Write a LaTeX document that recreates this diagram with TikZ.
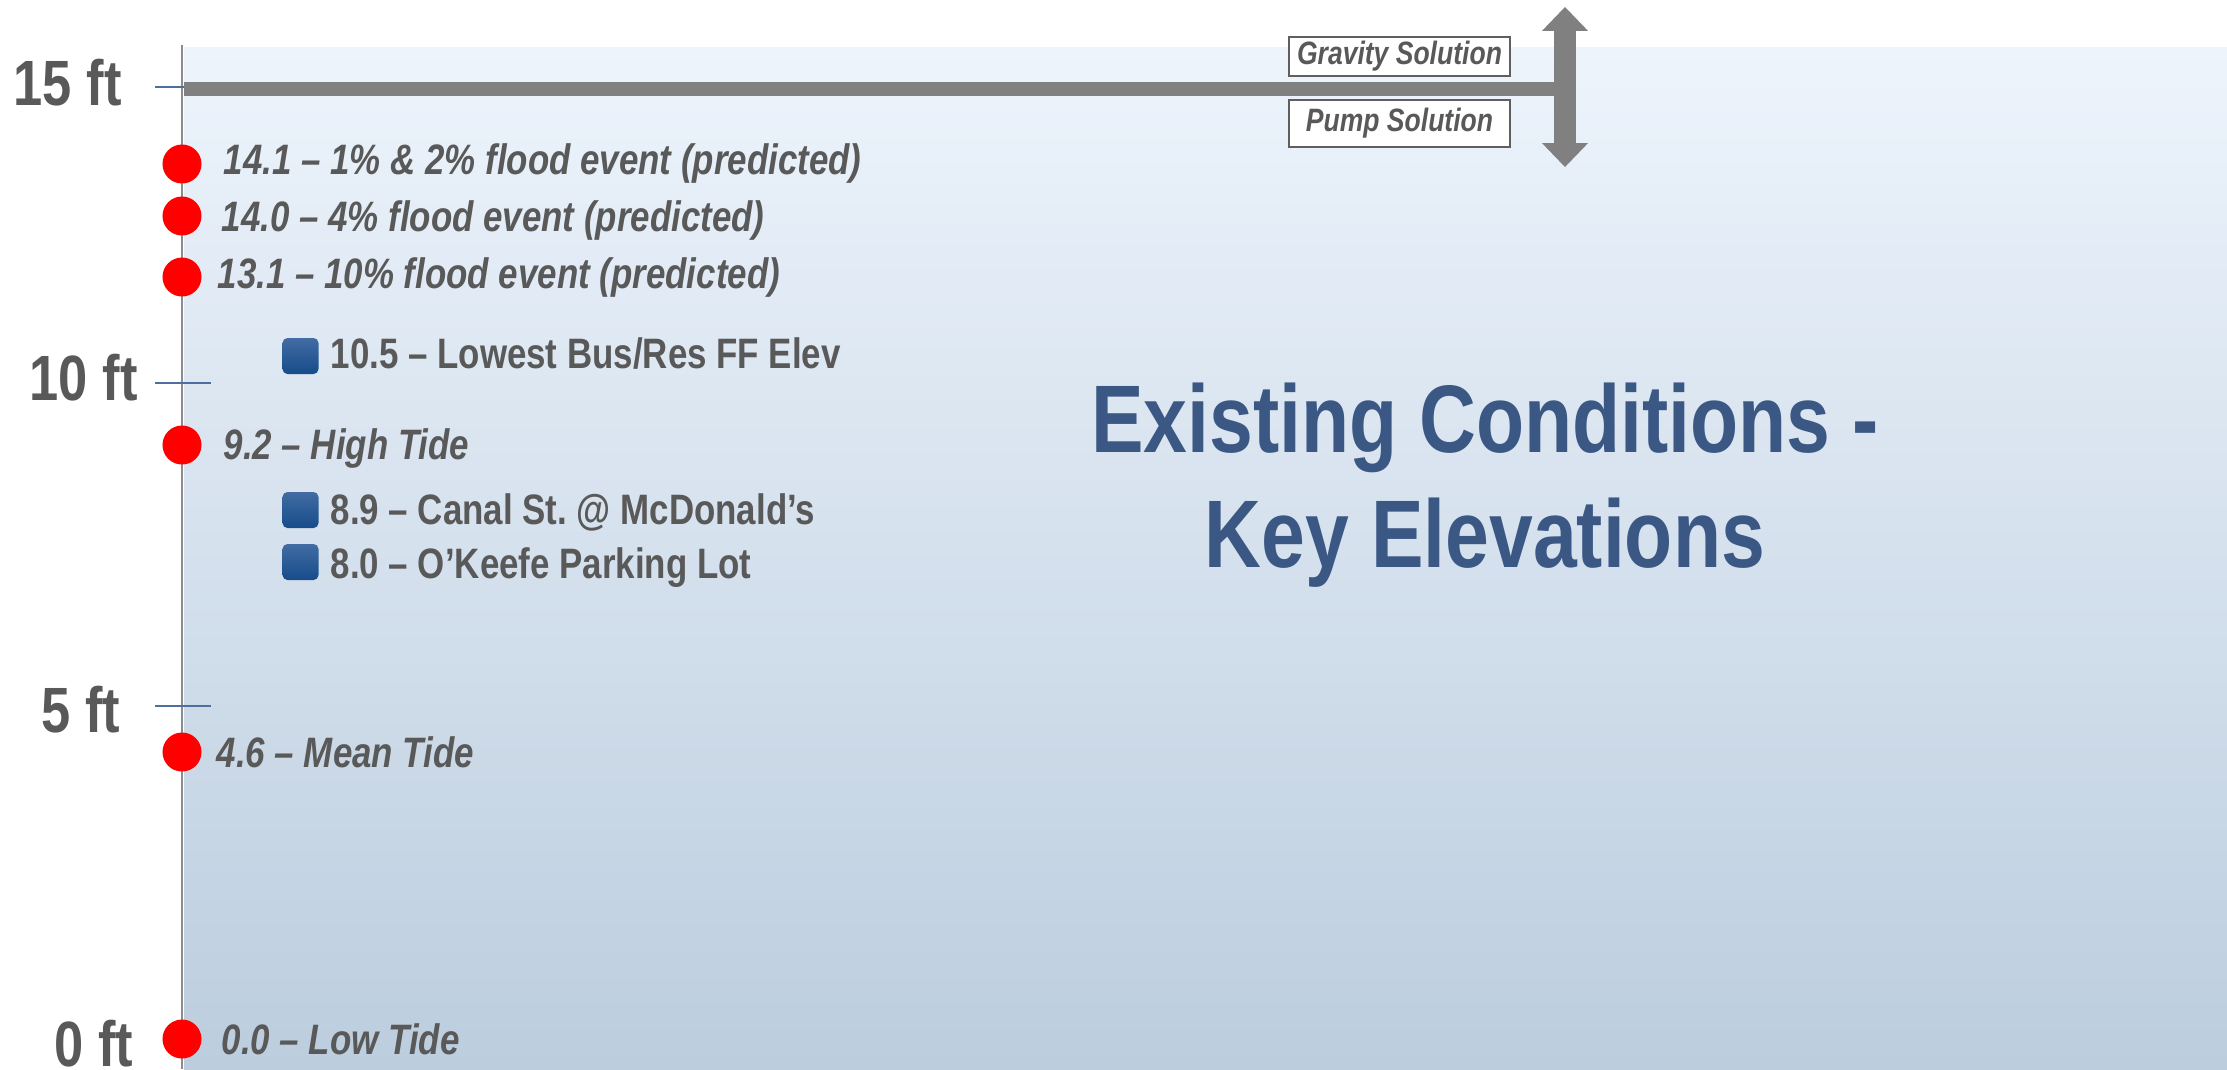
\documentclass[tikz,border=0pt]{standalone}
\usepackage{fontspec}
\setmainfont{Liberation Sans}[FakeStretch=0.82]
\usetikzlibrary{arrows.meta}
\usepackage{xcolor}
\definecolor{txtgray}{RGB}{89,89,89}
\definecolor{ttlblue}{RGB}{59,88,133}
\definecolor{bargray}{RGB}{128,128,128}
\definecolor{axgray}{RGB}{140,140,140}
\definecolor{tickblue}{RGB}{79,110,160}
\definecolor{boxgray}{RGB}{95,95,95}
\definecolor{bgtop}{RGB}{237,244,252}
\definecolor{bgbot}{RGB}{188,205,222}
\definecolor{sqtop}{RGB}{66,108,163}
\definecolor{sqbot}{RGB}{22,76,138}

\begin{document}
\begin{tikzpicture}[x=0.01cm,y=-0.01cm,every node/.style={inner sep=0pt,text=txtgray},
ftlbl/.style={anchor=base west,font=\fontsize{18.2}{20}\selectfont\bfseries},
evlbl/.style={anchor=base west,font=\fontsize{12.1}{14}\selectfont\bfseries\itshape},
sitelbl/.style={anchor=base west,font=\fontsize{12.1}{14}\selectfont\bfseries},
redpt/.style={circle,fill=red,minimum size=0.39cm},
bluesq/.style={rounded corners=0.05cm,minimum size=0.36cm,top color=sqtop,bottom color=sqbot},
solbox/.style={draw=boxgray,line width=0.6pt,fill=white,minimum width=2.21cm,font=\fontsize{9.2}{11}\selectfont\bfseries\itshape},
solbar/.style={draw=bargray,line width=3.98pt},
solarr/.style={draw=bargray,line width=6.26pt,{Triangle[length=6.8pt,width=13.1pt,line width=0pt]}-{Triangle[length=6.8pt,width=13.1pt,line width=0pt]}},
axis/.style={draw=axgray,line width=0.5pt},
tick/.style={draw=tickblue,line width=0.4pt}]
\useasboundingbox (0,0) rectangle (2227,1069);
\shade[top color=bgtop,bottom color=bgbot] (184,47) rectangle (2227,1069);
% elevation axis
\coordinate(atop) at (182,45);\coordinate(abot) at (182,1069);
\draw[axis](atop)--(abot);
\draw[tick](155,87)--(211,87);\draw[tick](155,383)--(211,383);\draw[tick](155,706)--(211,706);
\node[ftlbl](f15) at (13,105){15 ft};
\node[ftlbl](f10) at (29,400){10 ft};
\node[ftlbl](f5) at (41,732){5 ft};
\node[ftlbl](f0) at (54,1066){0 ft};
% 15 ft design line
\coordinate(bl) at (184,89);\coordinate(br) at (1565,89);
\coordinate(up) at (1565,7);\coordinate(dn) at (1565,167);
\draw[solbar](bl)--(br);\draw[solarr](up)--(dn);
\node[solbox,minimum height=0.39cm](grav) at (1399.5,56.5){Gravity Solution};
\node[solbox,minimum height=0.47cm](pump) at (1399.5,123.5){Pump Solution};
% water levels
\node[redpt](p141) at (182,164){};\node[evlbl](l141) at (223,174){14.1 -- 1\% \& 2\% flood event (predicted)};
\node[redpt](p140) at (182,216){};\node[evlbl](l140) at (221,231){14.0 -- 4\% flood event (predicted)};
\node[redpt](p131) at (182,277){};\node[evlbl](l131) at (217,288){13.1 -- 10\% flood event (predicted)};
\node[redpt](p92) at (182,445){};\node[evlbl](l92) at (223,459){9.2 -- High Tide};
\node[redpt](p46) at (182,752){};\node[evlbl](l46) at (216,767){4.6 -- Mean Tide};
\node[redpt](p00) at (182,1039){};\node[evlbl](l00) at (221,1054){0.0 -- Low Tide};
% ground elevations
\node[bluesq](s105) at (300.5,356){};\node[sitelbl](l105) at (330,368){10.5 -- Lowest Bus/Res FF Elev};
\node[bluesq](s89) at (300.5,510){};\node[sitelbl](l89) at (330,524){8.9 -- Canal St.\ @ McDonald’s};
\node[bluesq](s80) at (300.5,562){};\node[sitelbl](l80) at (330,578){8.0 -- O’Keefe Parking Lot};
\node[align=center,text=ttlblue,font=\fontsize{27.3}{32.7}\selectfont\bfseries](ttl) at (1485,485){Existing Conditions -\\Key Elevations};
\end{tikzpicture}
\end{document}
